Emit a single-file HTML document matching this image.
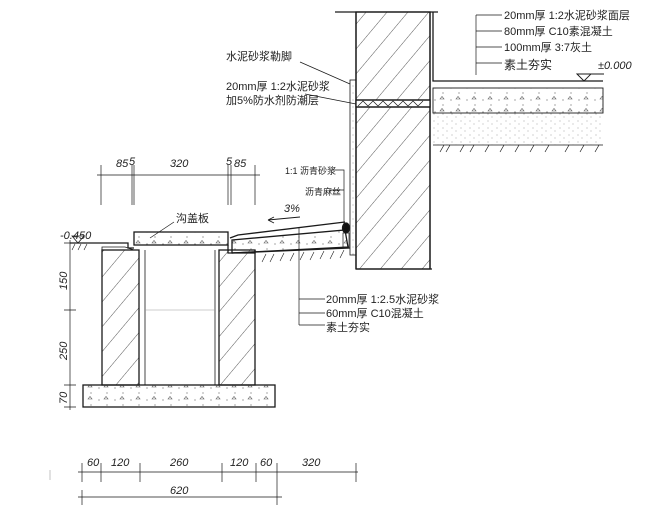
<!DOCTYPE html>
<html><head><meta charset="utf-8"><style>
html,body{margin:0;padding:0;background:#fff}
svg{display:block}
text{font-family:"Liberation Sans","Noto Sans CJK SC",sans-serif;fill:#222}
.n{font-size:11px;font-style:italic}
.c{font-size:11px}
</style></head><body>
<svg width="661" height="514" viewBox="0 0 661 514" xmlns="http://www.w3.org/2000/svg">
<defs>
<pattern id="h" width="16" height="16" patternUnits="userSpaceOnUse" patternTransform="rotate(40)">
<line x1="0" y1="0" x2="0" y2="16" stroke="#444" stroke-width="0.9"/>
</pattern>
<pattern id="d" width="16" height="12" patternUnits="userSpaceOnUse">
<circle cx="3" cy="4" r="0.6" fill="#666"/><circle cx="11" cy="9" r="0.6" fill="#666"/><path d="M8 3 l2 -2.5 l2 2.5z" fill="none" stroke="#555" stroke-width="0.6"/>
</pattern>
<pattern id="s" width="9" height="7" patternUnits="userSpaceOnUse">
<circle cx="2" cy="2" r="0.5" fill="#888"/><line x1="5" y1="5" x2="7" y2="5" stroke="#aaa" stroke-width="0.5"/>
</pattern>
</defs>
<g stroke="#1a1a1a" stroke-width="1.3" fill="none">
<line x1="335" y1="12" x2="438" y2="12"/>
<rect x="356" y="12" width="74" height="257" fill="url(#h)"/>
<line x1="356" y1="12" x2="356" y2="269"/><line x1="430" y1="12" x2="430" y2="269"/>
<line x1="356" y1="269" x2="432" y2="269"/>
<rect x="356" y="100" width="74" height="7" fill="#fff"/>
<path d="M356 100 h74 M356 107 h74" />
<path d="M358 106 l5 -5 l5 5 l5 -5 l5 5 l5 -5 l5 5 l5 -5 l5 5 l5 -5 l5 5 l5 -5 l5 5 l5 -5" stroke-width="0.7"/>
<rect x="350" y="80" width="6" height="175" fill="url(#s)" stroke-width="0.8"/>
<path d="M433 12 V81 H603"/>
<rect x="433" y="88" width="170" height="25" fill="url(#d)" stroke-width="0.9"/>
<rect x="433" y="113" width="170" height="32" fill="url(#s)" stroke="none"/>
<path d="M433 145 h170" stroke-width="0.7"/>
<path d="M440 152 l4 -7 M446 152 l4 -7 M460 152 l4 -7 M470 152 l4 -7 M485 152 l4 -7 M500 152 l4 -7 M515 152 l4 -7 M530 152 l4 -7 M545 152 l4 -7 M565 152 l4 -7 M580 152 l4 -7 M595 152 l4 -7" stroke-width="0.7"/>
<path d="M577 74 l7 7 l7 -7 z M584 74 h20" stroke-width="0.9"/>
<path d="M476 15 V75 M476 15 h26 M476 31 h26 M476 47 h26 M476 63 h26" stroke-width="0.7"/>
<path d="M300 62 L350 84 M305 94 L356 104" stroke-width="0.7"/>
<rect x="102" y="250" width="37" height="135" fill="url(#h)"/>
<rect x="219" y="250" width="36" height="135" fill="url(#h)"/>
<path d="M139 250 V385 M145 250 V385 M215 250 V385 M219 250 V385" stroke-width="0.8"/>
<path d="M145 310 H215" stroke-width="0.5" stroke="#999"/>
<rect x="83" y="385" width="192" height="22" fill="url(#d)"/>
<rect x="134" y="232" width="94" height="13" fill="url(#d)"/>
<path d="M70 243 H128 V248 H134 M228 245 V253 H255 V250"/>
<path d="M102 250 V247 H125 L134 250" stroke-width="0.8"/>
<path d="M230 238 L238 235 L345 222" />
<path d="M232 240 L345 230 L348 247 L232 253 Z" fill="url(#d)"/>
<path d="M232 253 L350 248" />
<path d="M262 262 l4 -8 M270 262 l4 -8 M280 261 l4 -8 M290 261 l4 -8 M300 260 l4 -8 M310 260 l4 -8 M320 259 l4 -8 M330 259 l4 -8 M340 258 l4 -8" stroke-width="0.6"/>
<ellipse cx="346" cy="228" rx="3.5" ry="5" fill="#111"/>
<rect x="343" y="233" width="6" height="14" stroke-width="0.7"/>
<path d="M72 236 l6 7 l6 -7 z" stroke-width="0.8"/>
<path d="M72 250 l3 -6 M78 250 l3 -6 M84 250 l3 -6" stroke-width="0.6"/>
<path d="M299 228 V325 M299 299 h26 M299 313 h26 M299 325 h26" stroke-width="0.7"/>
<path d="M330 170 h14 V228 M330 190 h14" stroke-width="0.7"/>
<path d="M300 217 L268 220 M268 220 l6 -3 M268 220 l6 3" stroke-width="0.9"/>
<path d="M174 222 L150 238" stroke-width="0.7"/>
<g stroke-width="0.7">
<path d="M97 175 H260 M101 165 V205 M132 165 V205 M134 165 V205 M228 165 V205 M231 165 V205 M255 165 V205"/>
<path d="M70 240 V410 M64 243 h12 M64 310 h12 M64 385 h12 M64 407 h12"/>
<path d="M78 472 H358 M82 463 V482 M101 463 V482 M140 463 V482 M222 463 V482 M256 463 V482 M277 463 V505 M356 463 V482"/>
<path d="M78 497 H282 M82 490 V505"/>
<path d="M50 470 V480" stroke="#aaa"/>
</g>
</g>
<text class="n" x="116" y="167">85</text><text class="n" x="129" y="165">5</text>
<text class="n" x="170" y="167">320</text><text class="n" x="226" y="165">5</text><text class="n" x="234" y="167">85</text>
<text class="n" x="60" y="239">-0.450</text>
<text class="n" transform="translate(67,290) rotate(-90)">150</text>
<text class="n" transform="translate(67,360) rotate(-90)">250</text>
<text class="n" transform="translate(67,404) rotate(-90)">70</text>
<text class="n" x="87" y="466">60</text><text class="n" x="111" y="466">120</text>
<text class="n" x="170" y="466">260</text><text class="n" x="230" y="466">120</text>
<text class="n" x="260" y="466">60</text><text class="n" x="302" y="466">320</text>
<text class="n" x="170" y="494">620</text>
<text class="c" x="176" y="222">沟盖板</text>
<text class="n" x="284" y="212">3%</text>
<text style="font-size:9px" x="285" y="174">1:1 沥青砂浆</text>
<text style="font-size:9px" x="305" y="195">沥青麻丝</text>
<text class="c" x="326" y="303">20mm厚 1:2.5水泥砂浆</text>
<text class="c" x="326" y="317">60mm厚 C10混凝土</text>
<text class="c" x="326" y="331">素土夯实</text>
<text class="c" x="226" y="60">水泥砂浆勒脚</text>
<text class="c" x="226" y="90">20mm厚 1:2水泥砂浆</text>
<text class="c" x="226" y="104">加5%防水剂防潮层</text>
<text class="c" x="504" y="19">20mm厚 1:2水泥砂浆面层</text>
<text class="c" x="504" y="35">80mm厚 C10素混凝土</text>
<text class="c" x="504" y="51">100mm厚 3:7灰土</text>
<text class="c" x="504" y="69" style="font-size:12px">素土夯实</text>
<text class="n" x="598" y="69">±0.000</text>
</svg>
</body></html>
